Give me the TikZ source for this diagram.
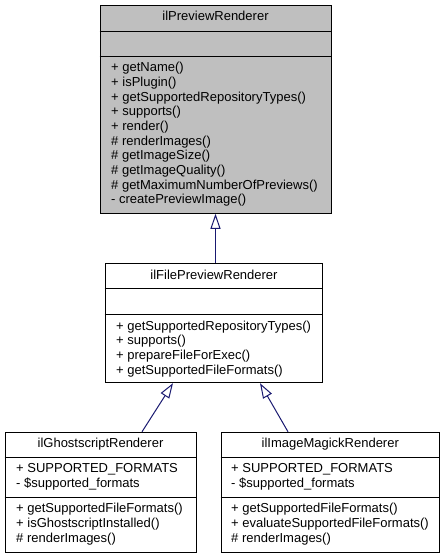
\documentclass[tikz,border=0pt]{standalone}
\usepackage{fontspec}
\setmainfont{Liberation Sans}
\usetikzlibrary{arrows.meta}
\definecolor{edgeblue}{RGB}{25,25,112}
\definecolor{basegray}{RGB}{191,191,191}

\begin{document}
\begin{tikzpicture}[x=1pt, y=-1pt,
    font=\fontsize{13}{14.7}\selectfont,
    classbox/.style={draw, line width=1pt, fill=white, inner sep=0pt},
    sepline/.style={line width=1pt},
    title/.style={inner sep=0pt, text height=9.5pt, text depth=2.7pt},
    member/.style={anchor=west, inner sep=0pt, text height=9.5pt, text depth=2.7pt},
    inherit/.style={draw=edgeblue, line width=1pt,
        -{Triangle[length=15pt, width=10pt, fill=white]}}]
            \useasboundingbox (0, 0) rectangle (445, 559);
            % base class
            \node[classbox, fill=basegray, minimum width=231pt, minimum height=207.5pt] (preview) at (215.5, 109.5) {};
            \draw[sepline] (preview.west |- 0, 31.7) -- (preview.east |- 0, 31.7);
            \draw[sepline] (preview.west |- 0, 56.7) -- (preview.east |- 0, 56.7);
            \node[title] (previewname) at (215.5, 17.5) {ilPreviewRenderer};
            \node[member] (p1) at (111, 68.3) {+ getName()};
            \node[member] (p2) at (111, 83.0) {+ isPlugin()};
            \node[member] (p3) at (111, 97.7) {+ getSupportedRepositoryTypes()};
            \node[member] (p4) at (111, 112.4) {+ supports()};
            \node[member] (p5) at (111, 127.0) {+ render()};
            \node[member] (p6) at (111, 141.7) {\# renderImages()};
            \node[member] (p7) at (111, 156.4) {\# getImageSize()};
            \node[member] (p8) at (111, 171.0) {\# getImageQuality()};
            \node[member] (p9) at (111, 185.7) {\# getMaximumNumberOfPreviews()};
            \node[member] (p10) at (111, 200.4) {- createPreviewImage()};
            % file preview renderer
            \node[classbox, minimum width=217.7pt, minimum height=119pt] (filepreview) at (214, 323.2) {};
            \draw[sepline] (filepreview.west |- 0, 288.3) -- (filepreview.east |- 0, 288.3);
            \draw[sepline] (filepreview.west |- 0, 314) -- (filepreview.east |- 0, 314);
            \node[title] (filepreviewname) at (214, 275.7) {ilFilePreviewRenderer};
            \node[member] (f1) at (116, 326.7) {+ getSupportedRepositoryTypes()};
            \node[member] (f2) at (116, 341.4) {+ supports()};
            \node[member] (f3) at (116, 356.0) {+ prepareFileForExec()};
            \node[member] (f4) at (116, 370.7) {+ getSupportedFileFormats()};
            % ghostscript renderer
            \node[classbox, minimum width=191pt, minimum height=120pt] (ghost) at (100.5, 492.3) {};
            \draw[sepline] (ghost.west |- 0, 457.7) -- (ghost.east |- 0, 457.7);
            \draw[sepline] (ghost.west |- 0, 497) -- (ghost.east |- 0, 497);
            \node[title] (ghostname) at (100.5, 444) {ilGhostscriptRenderer};
            \node[member] (g1) at (16, 469.3) {+ SUPPORTED\_FORMATS};
            \node[member] (g2) at (16, 484.0) {- \$supported\_formats};
            \node[member] (g3) at (16, 509.3) {+ getSupportedFileFormats()};
            \node[member] (g4) at (16, 524.0) {+ isGhostscriptInstalled()};
            \node[member] (g5) at (16, 538.7) {\# renderImages()};
            % image magick renderer
            \node[classbox, minimum width=218.5pt, minimum height=120pt] (magick) at (330.25, 492.3) {};
            \draw[sepline] (magick.west |- 0, 457.7) -- (magick.east |- 0, 457.7);
            \draw[sepline] (magick.west |- 0, 497) -- (magick.east |- 0, 497);
            \node[title] (magickname) at (330.25, 444) {ilImageMagickRenderer};
            \node[member] (m1) at (231, 469.3) {+ SUPPORTED\_FORMATS};
            \node[member] (m2) at (231, 484.0) {- \$supported\_formats};
            \node[member] (m3) at (231, 509.3) {+ getSupportedFileFormats()};
            \node[member] (m4) at (231, 524.0) {+ evaluateSupportedFileFormats()};
            \node[member] (m5) at (231, 538.7) {\# renderImages()};
            % inheritance
            \draw[inherit] (preview.south |- filepreview.north) -- (preview.south);
            \draw[inherit] ([xshift=41.5pt]ghost.north) -- ([xshift=-41pt]filepreview.south);
            \draw[inherit] ([xshift=-42.25pt]magick.north) -- ([xshift=46pt]filepreview.south);
        \end{tikzpicture}
\end{document}
